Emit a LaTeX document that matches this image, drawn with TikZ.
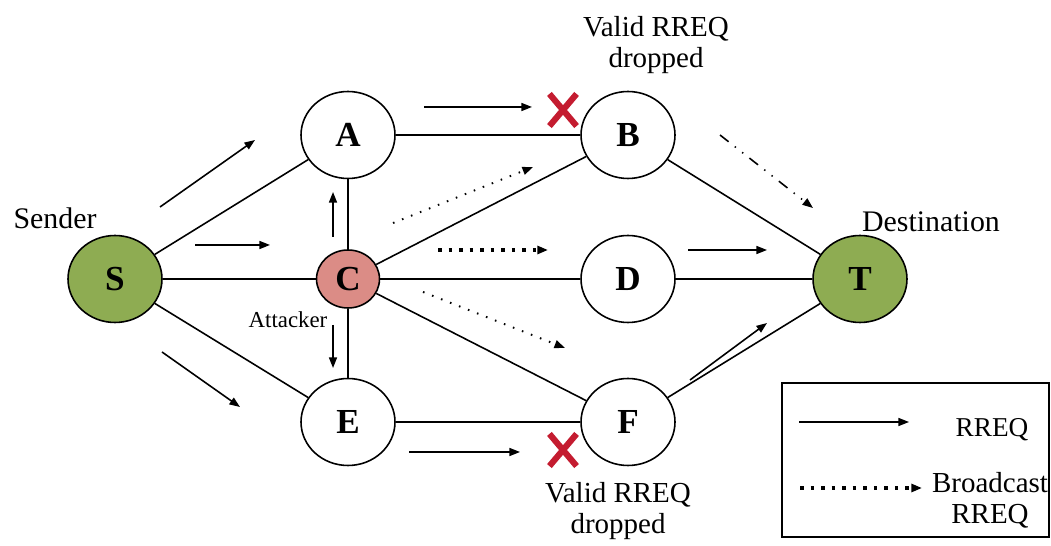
\documentclass[tikz,border=0pt]{standalone}
\usepackage{fontspec}
\setmainfont{Liberation Serif}
\usetikzlibrary{arrows.meta,shapes.geometric,shapes.misc}
\definecolor{hostgreen}{RGB}{142,172,82}
\definecolor{roguepink}{RGB}{219,140,134}
\definecolor{dropred}{RGB}{196,28,48}

\begin{document}
\begin{tikzpicture}[x=0.02cm,y=-0.02cm,
		hop/.style={ellipse,draw,line width=0.9pt,minimum width=1.88cm,minimum height=1.74cm,inner sep=0pt,font=\fontsize{20}{20}\selectfont\bfseries},
		host/.style={hop,fill=hostgreen},
		rogue/.style={hop,fill=roguepink,minimum width=1.26cm,minimum height=1.16cm},
		link/.style={line width=0.9pt},
		rreq/.style={line width=0.9pt,-{Triangle[length=6pt,width=4.5pt]}},
		bcast/.style={rreq,line width=1.1pt,dash pattern=on 0.9pt off 4.6pt},
		flood/.style={rreq,line width=2pt,dash pattern=on 2pt off 4pt},
		rrep/.style={rreq,dash pattern=on 6.2pt off 4.5pt on 0.8pt off 4.5pt on 0.8pt off 4.5pt},
		drop/.style={cross out,draw=dropred,line width=3.5pt,minimum width=0.42cm,minimum height=0.52cm,inner sep=0pt},
		lbl/.style={font=\fontsize{16.5}{17.5}\selectfont,align=center,inner sep=0pt}]
		\useasboundingbox (0,0) rectangle (1051,546);
		\node[host] (S) at (115,279) {S};
		\foreach \N/\X/\Y in {A/348/135, B/628/135, D/628/279, E/348/422, F/628/422}
		\node[hop] (\N) at (\X,\Y) {\N};
		\node[rogue] (C) at (348,279) {C};
		\node[host] (T) at (860,279) {T};
		\foreach \P/\Q in {S/A, S/C, S/E, A/B, A/C, C/B, C/D, C/F, C/E, E/F, B/T, D/T, F/T}
		\draw[link] (\P) -- (\Q);
		\foreach \N/\P/\Q/\K in {sa/{160,207}/{255,140}/rreq, sc/{195,245}/{270,245}/rreq,
			se/{162,352}/{240,407}/rreq, ab/{424,107}/{532,107}/rreq, ca/{333,237}/{333,192}/rreq,
			ce/{333,325}/{333,368}/rreq, ef/{409,452}/{520,452}/rreq, dt/{688,250}/{767,250}/rreq,
			ft/{690,380}/{767,323}/rreq, cb/{393,223}/{533,167}/bcast, cf/{423,292}/{565,348}/bcast,
			cd/{438,250}/{548,250}/flood, bt/{720,135}/{813,208}/rrep}
		{
			\coordinate (\N-tail) at (\P);
			\coordinate (\N-head) at (\Q);
			\draw[\K] (\N-tail) -- (\N-head);
		}
		\node[drop] (dropAB) at (563,110) {};
		\node[drop] (dropEF) at (563,450) {};
		\node[lbl,font=\fontsize{17}{17}\selectfont] (sender) at (55,218) {Sender};
		\node[lbl,font=\fontsize{17}{17}\selectfont] (dest) at (931,222) {Destination};
		\node[lbl,font=\fontsize{13}{13}\selectfont] (attacker) at (288,320) {Attacker};
		\node[lbl,anchor=north] (lostB) at (656,16) {Valid RREQ\\dropped};
		\node[lbl,anchor=north] (lostF) at (618,482) {Valid RREQ\\dropped};
		\draw[link] (782,383) rectangle (1049,537);
		\coordinate (key1-tail) at (799,422);
		\coordinate (key1-head) at (909,422);
		\draw[rreq] (key1-tail) -- (key1-head);
		\coordinate (key2-tail) at (800,488);
		\coordinate (key2-head) at (922,488);
		\draw[flood] (key2-tail) -- (key2-head);
		\node[lbl,font=\fontsize{15.5}{15.5}\selectfont] (key1) at (992,430) {RREQ};
		\node[lbl] (key2) at (990,500) {Broadcast\\RREQ};
\end{tikzpicture}
\end{document}
